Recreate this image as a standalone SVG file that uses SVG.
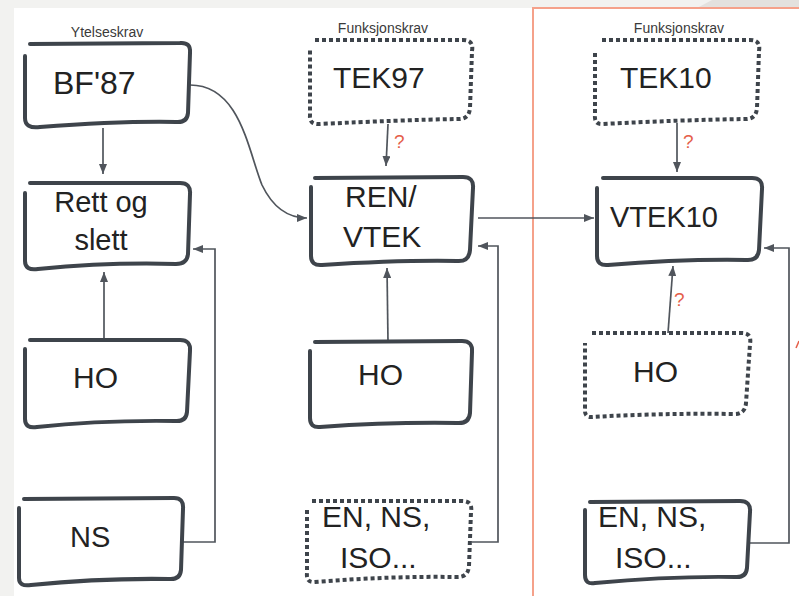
<svg xmlns="http://www.w3.org/2000/svg" width="799" height="596" viewBox="0 0 799 596">
<defs>
<style>
.box{fill:none;stroke:#3e444b;stroke-width:4;stroke-linecap:round;stroke-linejoin:round}
.dot{fill:none;stroke:#3e444b;stroke-width:4;stroke-dasharray:4 3}
.t{font-family:"Liberation Sans",Arial,sans-serif;fill:#222222}
.big{font-size:30px}
.hdr{font-family:"Liberation Sans",Arial,sans-serif;font-size:14px;fill:#3a3a3a;text-anchor:middle}
.q{font-family:"Liberation Sans",Arial,sans-serif;font-size:19px;fill:#e5604a}
.c{fill:none;stroke:#50555c;stroke-width:1.7}
.ca{fill:none;stroke:#50555c;stroke-width:1.7;marker-end:url(#ah)}
</style>
<marker id="ah" markerUnits="userSpaceOnUse" markerWidth="11" markerHeight="8" refX="10" refY="4" orient="auto">
<path d="M0,0 L10,4 L0,8 z" fill="#50555c"/>
</marker>
</defs>
<rect x="0" y="0" width="799" height="596" fill="#ffffff"/>
<rect x="0" y="0" width="799" height="8" fill="#f2f2f0"/>
<rect x="0" y="0" width="14" height="596" fill="#f2f2f0"/>
<polygon points="697,8 712,0 799,0 799,8" fill="#e3e1de"/>
<g id="frame">
<path d="M533,596 L533,8 L799,8" fill="none" stroke="#f5a18a" stroke-width="2"/>
</g>
<g id="headers">
<text class="hdr" x="107" y="37">Ytelseskrav</text>
<text class="hdr" x="383" y="33">Funksjonskrav</text>
<text class="hdr" x="679" y="33">Funksjonskrav</text>
</g>
<g id="connectors">
<path class="ca" d="M103,128 L103,174"/>
<path class="ca" d="M104,340 L104,272"/>
<path class="ca" d="M183,542 L215,542 L215,249 L193,249"/>
<path class="ca" d="M190,85 C240,85 248,150 262,185 C274,210 290,218 307,218"/>
<path class="ca" d="M388,124 L386,166"/>
<path class="ca" d="M388,342 L387,268"/>
<path class="ca" d="M472,542 L498,542 L498,246 L478,246"/>
<path class="ca" d="M478,218 L594,218"/>
<path class="ca" d="M677,123 L677,172"/>
<path class="ca" d="M668,333 L673,266"/>
<path class="ca" d="M750,543 L789,543 L789,248 L764,248"/>
<text class="q" x="394" y="148">?</text>
<text class="q" x="683" y="148">?</text>
<text class="q" x="674" y="306">?</text>
<path d="M796,348 L799,341" stroke="#e5604a" stroke-width="1.5" fill="none"/>
</g>
<g id="bf87">
<path class="box" d="M30,44 L180,43 Q191,42 190,53 L188,113 Q187,123 176,122 Q120,121 40,127 Q25,129 25,118 L25,56"/>
<text class="t" x="53" y="94" font-size="32">BF'87</text>
</g>
<g id="rett-og-slett">
<path class="box" d="M30,183 L180,183 Q191,183 190,194 L188,254 Q187,264 176,264 Q110,262 38,269 Q25,271 25,261 L25,193"/>
<text class="t" font-size="29" text-anchor="middle"><tspan x="101" y="212">Rett og</tspan><tspan x="101" y="250">slett</tspan></text>
</g>
<g id="ho1">
<path class="box" d="M30,340 L180,340 Q191,340 190,351 L187,412 Q186,422 175,421 Q100,420 37,427 Q25,429 25,419 L25,349"/>
<text class="t big" x="73" y="388">HO</text>
</g>
<g id="ns1">
<path class="box" d="M24,499 L174,498 Q184,498 183,509 L181,570 Q180,580 169,579 Q100,578 31,585 Q19,587 19,578 L19,508"/>
<text class="t" x="70" y="547" font-size="29">NS</text>
</g>
<g id="tek97">
<path class="dot" d="M315,40 L463,40 Q474,40 472,51 L470,108 Q469,120 457,119 Q400,120 320,124 Q309,125 310,115 L310,50"/>
<text class="t big" x="333" y="88">TEK97</text>
</g>
<g id="ren-vtek">
<path class="box" d="M315,178 L463,177 Q474,177 473,188 L470,250 Q469,262 457,261 Q400,260 322,265 Q311,266 311,256 L311,187"/>
<text class="t big"><tspan x="345" y="207">REN/</tspan><tspan x="343" y="247">VTEK</tspan></text>
</g>
<g id="ho2">
<path class="box" d="M315,342 L462,341 Q473,341 472,352 L470,413 Q469,424 457,423 Q390,422 320,427 Q310,428 310,418 L310,351"/>
<text class="t big" x="358" y="385">HO</text>
</g>
<g id="en-ns-iso-2">
<path class="dot" d="M312,501 L462,501 Q473,501 471,512 L469,566 Q468,578 456,577 Q390,576 315,582 Q306,583 307,573 L307,510"/>
<text class="t big"><tspan x="322" y="527">EN, NS,</tspan><tspan x="340" y="568">ISO...</tspan></text>
</g>
<g id="tek10">
<path class="dot" d="M602,40 L750,40 Q761,40 759,51 L757,108 Q756,120 744,119 Q680,120 603,124 Q594,125 595,115 L595,50"/>
<text class="t big" x="620" y="88">TEK10</text>
</g>
<g id="vtek10">
<path class="box" d="M603,178 L752,178 Q763,178 762,189 L759,250 Q758,261 746,260 Q680,259 608,265 Q597,266 597,256 L597,188"/>
<text class="t" x="610" y="227" font-size="29">VTEK10</text>
</g>
<g id="ho3">
<path class="dot" d="M592,333 L742,333 Q752,333 750,344 L746,403 Q745,415 733,414 Q660,413 592,417 Q584,418 585,408 L585,343"/>
<text class="t big" x="633" y="382">HO</text>
</g>
<g id="en-ns-iso-3">
<path class="box" d="M590,502 L740,501 Q751,501 750,512 L747,568 Q746,578 735,577 Q670,576 595,583 Q585,585 585,575 L585,510"/>
<text class="t big"><tspan x="598" y="527">EN, NS,</tspan><tspan x="615" y="568">ISO...</tspan></text>
</g>
</svg>
